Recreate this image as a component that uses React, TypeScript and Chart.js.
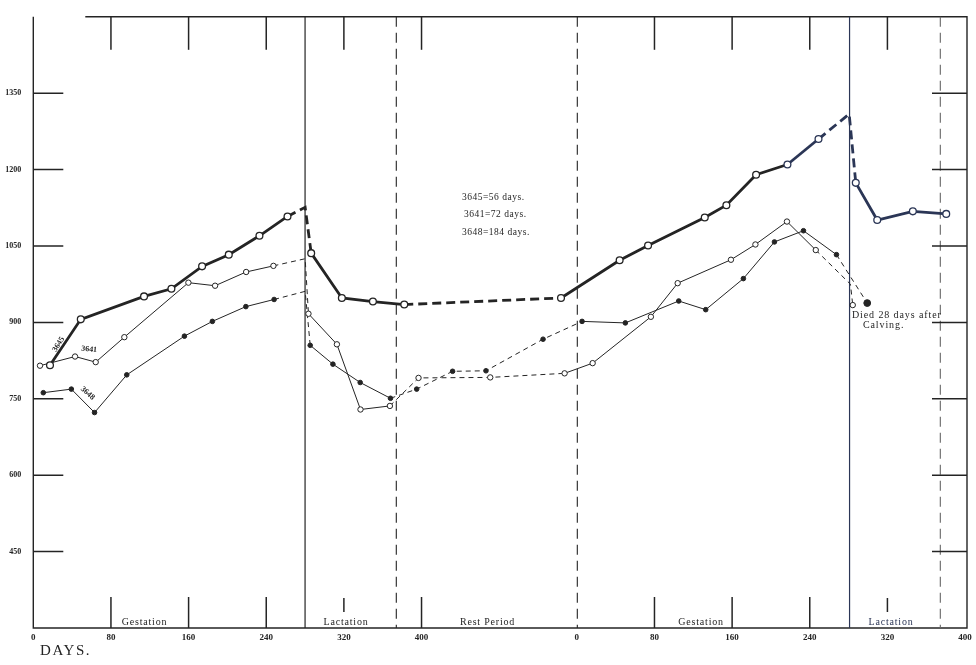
import React, { useEffect, useRef } from "react";
import { Chart, registerables } from "chart.js";

Chart.register(...registerables);

// ---- Data (continuous days: second cycle starts at day 560) ----
const cycleStart = 560;
const xTickValues = [0, 80, 160, 240, 320, 400, 560, 640, 720, 800, 880, 960];
const yTickValues = [450, 600, 750, 900, 1050, 1200, 1350];

const days3645 = [17.2, 48.9, 114.1, 142.3, 173.9, 201.4, 233, 261.9, 280.1, 286.3, 317.9, 349.9, 382.2, 543.7, 604.1, 633.4, 691.8, 714.1, 744.7, 777, 809, 840.6, 847.4, 869.5, 906.2, 940.6];
const weights3645 = [816, 906, 951, 966, 1010, 1033, 1070, 1108, 1126, 1036, 948, 941, 935, 948, 1022, 1051, 1106, 1130, 1190, 1210, 1260, 1309, 1174, 1101, 1118, 1113];
const dashed3645 = [7, 8, 12, 20, 21];
const hidden3645 = [8, 21];

const days3641 = [6.9, 43, 64.3, 93.8, 159.8, 187.3, 219.3, 247.4, 280.1, 283.5, 312.8, 337.1, 367.4, 396.9, 470.8, 547.4, 576.3, 636.3, 663.9, 718.8, 744, 776.5, 806.2, 841.9, 844.3];
const weights3641 = [815, 833, 822, 871, 978, 972, 999, 1011, 1025, 917, 857, 729, 736, 791, 792, 800, 820, 911, 977, 1023, 1053, 1098, 1042, 975, 934];
const dashed3641 = [7, 8, 12, 13, 14, 22, 23];
const hidden3641 = [8, 23];

const days3648 = [10.3, 39.2, 63.1, 96.3, 155.7, 184.5, 219, 248.1, 280.1, 285.3, 308.7, 336.8, 368, 395, 432, 466.4, 525.2, 565.4, 610, 665, 692.8, 731.6, 763.6, 793.5, 827.5, 859.2];
const weights3648 = [762, 769, 723, 797, 873, 902, 931, 945, 961, 855, 818, 782, 751, 769, 804, 805, 867, 902, 899, 942, 925, 986, 1058, 1080, 1033, 938];
const dashed3648 = [7, 8, 12, 13, 14, 15, 16, 24];
const hidden3648 = [8];

const periodLineDays = [280, 374, 560.5, 841, 934.5];
const periodLineDashed = [false, true, true, false, true];
const periodNames = ["Gestation", "Lactation", "Rest Period", "Gestation", "Lactation"];
const periodNameDays = [114.6, 322.2, 468, 688, 883.7];

const noteLines = ["3645=56 days.", "3641=72 days.", "3648=184 days."];
const diedLines = ["Died 28 days after", "Calving."];

const topTickDays = [80, 160, 240, 320, 400, 640, 720, 800, 880];
const bottomTickDays = [80, 160, 240, 400, 640, 720, 800];
const shortBottomTickDays = [320, 880];

const INK = "#242424";
const NAVY = "#2b3656";
const SERIF = '"Liberation Serif", "DejaVu Serif", serif';

const pts = (d: number[], w: number[]) => d.map((x, i) => ({ x, y: w[i] }));

const decor = {
  id: "decor",
  beforeDatasetsDraw(chart: any) {
    const { ctx, chartArea: a, scales } = chart;
    const x = scales.x;
    const y = scales.y;
    ctx.save();
    ctx.strokeStyle = INK;
    ctx.lineWidth = 1.4;
    // frame
    ctx.beginPath();
    ctx.moveTo(a.left, a.top);
    ctx.lineTo(a.left, a.bottom);
    ctx.lineTo(a.right, a.bottom);
    ctx.lineTo(a.right, a.top);
    ctx.lineTo(a.left + 52, a.top);
    ctx.stroke();

    // period separators
    periodLineDays.forEach((d, i) => {
      const px = x.getPixelForValue(d);
      ctx.save();
      ctx.lineWidth = periodLineDashed[i] ? 1.1 : 1.2;
      ctx.strokeStyle = i === 3 ? NAVY : i === 4 ? "#666" : INK;
      ctx.setLineDash(periodLineDashed[i] ? [10, 6] : []);
      ctx.beginPath();
      ctx.moveTo(px, a.top);
      ctx.lineTo(px, a.bottom);
      ctx.stroke();
      ctx.restore();
    });

    ctx.lineWidth = 1.5;
    topTickDays.forEach((d) => {
      const px = x.getPixelForValue(d);
      ctx.beginPath();
      ctx.moveTo(px, a.top);
      ctx.lineTo(px, a.top + 33);
      ctx.stroke();
    });
    bottomTickDays.forEach((d) => {
      const px = x.getPixelForValue(d);
      ctx.beginPath();
      ctx.moveTo(px, a.bottom);
      ctx.lineTo(px, a.bottom - 31);
      ctx.stroke();
    });
    shortBottomTickDays.forEach((d) => {
      const px = x.getPixelForValue(d);
      ctx.beginPath();
      ctx.moveTo(px, a.bottom - 30);
      ctx.lineTo(px, a.bottom - 16);
      ctx.stroke();
    });
    yTickValues.forEach((v) => {
      const py = y.getPixelForValue(v);
      ctx.beginPath();
      ctx.moveTo(a.left, py);
      ctx.lineTo(a.left + 30, py);
      ctx.moveTo(a.right - 35, py);
      ctx.lineTo(a.right, py);
      ctx.stroke();
    });
    ctx.restore();
  },
  afterDatasetsDraw(chart: any) {
    const { ctx, chartArea: a, scales } = chart;
    const x = scales.x;
    const y = scales.y;
    ctx.save();
    ctx.fillStyle = INK;
    ctx.textBaseline = "alphabetic";

    // period names
    ctx.font = `10px ${SERIF}`;
    ctx.textAlign = "center";
    (ctx as any).letterSpacing = "0.8px";
    periodNames.forEach((t, i) => {
      ctx.fillStyle = i === 4 ? NAVY : INK;
      ctx.fillText(t, x.getPixelForValue(periodNameDays[i]), a.bottom - 3);
    });
    ctx.fillStyle = INK;

    // rest-period note
    ctx.textAlign = "left";
    ctx.font = `9.5px ${SERIF}`;
    (ctx as any).letterSpacing = "0.5px";
    const nx = x.getPixelForValue(441.7);
    noteLines.forEach((t, i) => {
      ctx.fillText(t, nx + (i === 1 ? 2 : 0), y.getPixelForValue(1140.6) + i * 17.5);
    });

    // died note
    ctx.font = `10px ${SERIF}`;
    (ctx as any).letterSpacing = "0.9px";
    ctx.fillText(diedLines[0], x.getPixelForValue(843.5), y.getPixelForValue(908.7));
    ctx.fillText(diedLines[1], x.getPixelForValue(854.8), y.getPixelForValue(889.4));

    // series labels
    (ctx as any).letterSpacing = "0px";
    ctx.font = `bold 8px ${SERIF}`;
    ctx.textAlign = "center";
    ctx.textBaseline = "middle";
    const lbl = (t: string, d: number, v: number, deg: number) => {
      ctx.save();
      ctx.translate(x.getPixelForValue(d), y.getPixelForValue(v));
      ctx.rotate((deg * Math.PI) / 180);
      ctx.fillText(t, 0, 0);
      ctx.restore();
    };
    lbl("3645", 26, 857, -58);
    lbl("3641", 57.5, 847, 6);
    lbl("3648", 56, 761, 42);

    // DAYS.
    ctx.textAlign = "left";
    ctx.textBaseline = "alphabetic";
    ctx.font = `15px ${SERIF}`;
    (ctx as any).letterSpacing = "1.6px";
    ctx.fillText("DAYS.", 40, 655);
    ctx.restore();
  },
};

export default function App() {
  const ref = useRef<HTMLCanvasElement | null>(null);
  useEffect(() => {
    if (!ref.current) return;
    const thin = (hidden: number[], filled: boolean, dashed: number[], lastBig = false) => ({
      pointRadius: (c: any) =>
        hidden.includes(c.dataIndex) ? 0 : lastBig && c.dataIndex === c.dataset.data.length - 1 ? 3.4 : filled ? 2.3 : 2.7,
      pointBackgroundColor: filled ? INK : "#ffffff",
      pointBorderColor: INK,
      pointBorderWidth: 1,
      borderColor: INK,
      borderWidth: 1,
      tension: 0,
      segment: {
        borderDash: (c: any) => (dashed.includes(c.p0DataIndex) ? [5, 4] : undefined),
      },
    });
    const chart = new Chart(ref.current, {
      type: "line",
      data: {
        datasets: [
          {
            label: "3645",
            data: pts(days3645, weights3645),
            borderColor: INK,
            borderWidth: 2.8,
            tension: 0,
            pointRadius: (c: any) => (hidden3645.includes(c.dataIndex) ? 0 : 3.4),
            pointBackgroundColor: "#ffffff",
            pointBorderColor: (c: any) => (c.dataIndex >= 19 ? NAVY : INK),
            pointBorderWidth: 1.3,
            segment: {
              borderDash: (c: any) => (dashed3645.includes(c.p0DataIndex) ? [9, 5] : undefined),
              borderColor: (c: any) => (c.p0DataIndex >= 19 ? NAVY : undefined),
            },
          } as any,
          { label: "3641", data: pts(days3641, weights3641), ...thin(hidden3641, false, dashed3641) } as any,
          { label: "3648", data: pts(days3648, weights3648), ...thin(hidden3648, true, dashed3648, true) } as any,
        ],
      },
      options: {
        responsive: false,
        animation: false,
        layout: { padding: { top: 7, right: 9, left: 0, bottom: 0 } },
        plugins: { legend: { display: false }, tooltip: { enabled: false }, title: { display: false } },
        scales: {
          x: {
            type: "linear",
            min: 0,
            max: 962,
            afterFit: (s: any) => {
              s.height = 37;
            },
            afterBuildTicks: (s: any) => {
              s.ticks = xTickValues.map((v) => ({ value: v }));
            },
            grid: { display: false, drawTicks: false },
            border: { display: false },
            ticks: {
              autoSkip: false,
              maxRotation: 0,
              padding: 4,
              color: INK,
              font: { family: SERIF, size: 9, weight: "bold" },
              callback: (v: any) => String(v >= cycleStart ? v - cycleStart : v),
            },
          },
          y: {
            type: "linear",
            min: 300,
            max: 1500,
            afterFit: (s: any) => {
              s.width = 33.3;
            },
            afterBuildTicks: (s: any) => {
              s.ticks = yTickValues.map((v) => ({ value: v }));
            },
            grid: { display: false, drawTicks: false },
            border: { display: false },
            ticks: {
              padding: 12,
              color: INK,
              font: { family: SERIF, size: 8, weight: "bold" },
              callback: (v: any) => String(v),
            },
          },
        },
      } as any,
      plugins: [decor],
    });
    return () => chart.destroy();
  }, []);
  return (
    <div style={{ position: "absolute", left: 0, top: 0, width: 976, height: 665, background: "#fff" }}>
      <canvas ref={ref} width={976} height={665} />
    </div>
  );
}
